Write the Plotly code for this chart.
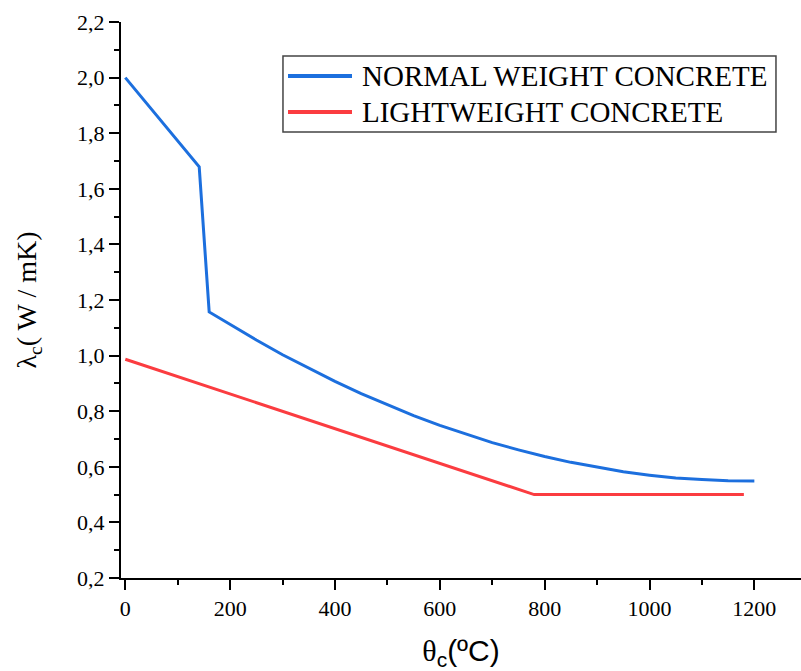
import plotly.graph_objects as go

# ---- data ----
normal_theta = [0, 141, 160, 200, 250, 300, 350, 400, 450, 500, 550, 600, 650,
                700, 750, 800, 850, 900, 950, 1000, 1050, 1100, 1150, 1200]
normal_lambda = [2.000, 1.679, 1.157, 1.111, 1.056, 1.003, 0.954, 0.907, 0.863,
                 0.823, 0.784, 0.749, 0.717, 0.687, 0.661, 0.637, 0.616, 0.598, 0.582,
                 0.570, 0.560, 0.554, 0.550, 0.549]

light_theta = [0, 780, 1180]
light_lambda = [0.987, 0.500, 0.500]

series_names = ["NORMAL WEIGHT CONCRETE", "LIGHTWEIGHT CONCRETE"]
series_colors = ["#1c6fde", "#fb3c40"]

x_ticks = [0, 200, 400, 600, 800, 1000, 1200]
y_ticks = [0.2, 0.4, 0.6, 0.8, 1.0, 1.2, 1.4, 1.6, 1.8, 2.0, 2.2]

x_range = [-8.2, 1289]
y_range = [0.2, 2.2]

SERIF = "Liberation Serif, Times New Roman, serif"
SANS = "Liberation Sans, Arial, sans-serif"

fig = go.Figure()
fig.add_trace(go.Scatter(x=normal_theta, y=normal_lambda, mode="lines",
                         name=series_names[0], showlegend=False,
                         line=dict(color=series_colors[0], width=3)))
fig.add_trace(go.Scatter(x=light_theta, y=light_lambda, mode="lines",
                         name=series_names[1], showlegend=False,
                         line=dict(color=series_colors[1], width=3)))

tickfont = dict(family=SERIF, size=22, color="black")

fig.update_layout(
    width=801, height=671,
    margin=dict(l=121, r=0, t=22, b=93),
    paper_bgcolor="white", plot_bgcolor="white",
    separators=",.",
    showlegend=False,
    xaxis=dict(range=x_range, tickvals=x_ticks, ticks="outside", ticklen=10,
               tickwidth=2, tickcolor="black", showline=True, linewidth=2,
               linecolor="black", showgrid=False, zeroline=False,
               tickfont=tickfont,
               minor=dict(dtick=100, tick0=0, ticks="outside", ticklen=5,
                          tickwidth=2, tickcolor="black", showgrid=False),
               title=dict(text="<span style='font-family:Liberation Serif'>θ</span><sub>c</sub>(ºC)",
                          font=dict(family=SANS, size=30, color="black"),
                          standoff=27)),
    yaxis=dict(range=y_range, tickvals=y_ticks, tickformat=".1f", ticks="outside",
               ticklen=10, tickwidth=2, tickcolor="black", showline=True,
               linewidth=2, linecolor="black", showgrid=False, zeroline=False,
               tickfont=tickfont,
               minor=dict(dtick=0.1, tick0=0.2, ticks="outside", ticklen=5,
                          tickwidth=2, tickcolor="black", showgrid=False),
               title=dict(text="λ<sub>c</sub>( W / mK)",
                          font=dict(family=SERIF, size=28, color="black"),
                          standoff=32)),
    xaxis2=dict(range=x_range, overlaying="x", side="top", anchor="y",
                tickvals=x_ticks, ticks="inside", ticklen=10, tickwidth=2,
                tickcolor="black", showticklabels=False, showline=True,
                linewidth=2, linecolor="black", showgrid=False, zeroline=False,
                minor=dict(dtick=100, tick0=0, ticks="inside", ticklen=5,
                           tickwidth=2, tickcolor="black", showgrid=False)),
    yaxis2=dict(range=y_range, overlaying="y", side="right", anchor="x",
                tickvals=y_ticks, ticks="inside", ticklen=4, tickwidth=2,
                tickcolor="black", showticklabels=False, showline=False,
                showgrid=False, zeroline=False),
)

# ---- legend box drawn as layout decoration ----
box_x0, box_x1, box_y0, box_y1 = 0.2382, 0.9632, 0.8022, 0.9388
fig.add_shape(type="rect", xref="paper", yref="paper",
              x0=box_x0, x1=box_x1, y0=box_y0, y1=box_y1,
              line=dict(color="#444444", width=1.5), fillcolor="white", layer="above")
row_y = [0.9029, 0.8381]
for name, color, ry in zip(series_names, series_colors, row_y):
    fig.add_shape(type="line", xref="paper", yref="paper",
                  x0=0.2456, x1=0.3397, y0=ry, y1=ry,
                  line=dict(color=color, width=4), layer="above")
    fig.add_annotation(xref="paper", yref="paper", x=0.3515, y=ry,
                       xanchor="left", yanchor="middle", showarrow=False,
                       text=name, font=dict(family=SERIF, size=29, color="black"))

fig.write_html("out.html")
